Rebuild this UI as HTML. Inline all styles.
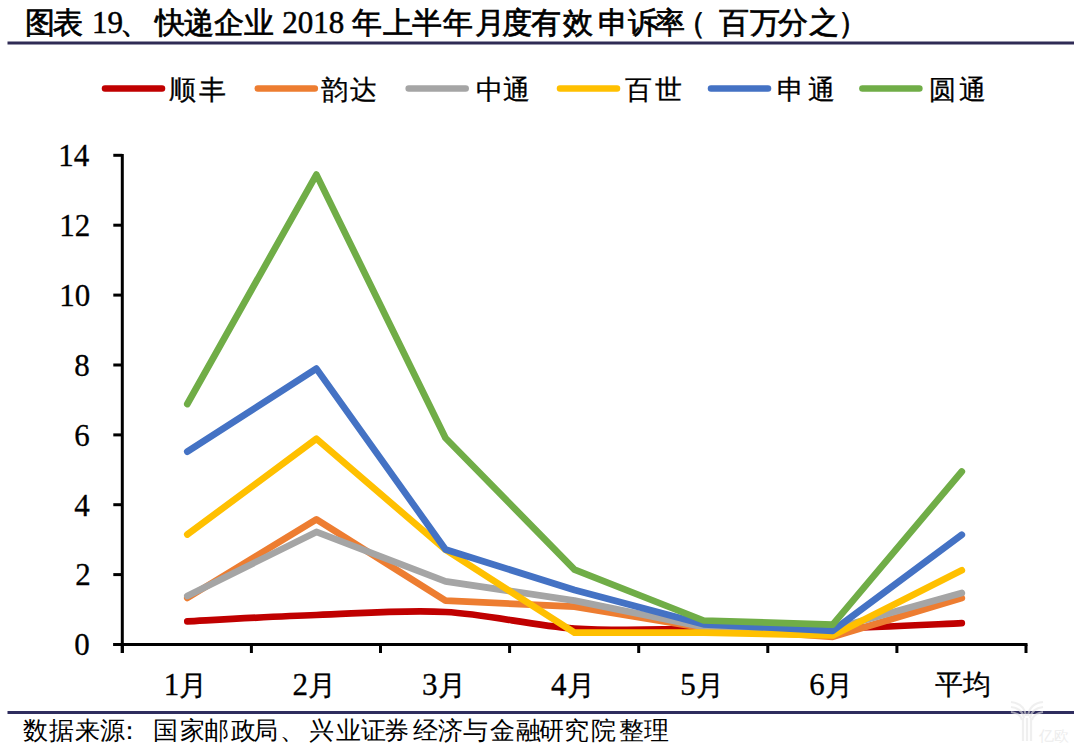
<!DOCTYPE html>
<html><head><meta charset="utf-8">
<style>
html,body{margin:0;padding:0;background:#fff;}
body{width:1080px;height:751px;overflow:hidden;position:relative;font-family:"Liberation Serif",serif;}
svg{position:absolute;left:0;top:0;}
</style></head><body>
<svg width="1080" height="751" viewBox="0 0 1080 751" font-family="Liberation Serif, serif">
<rect x="0" y="0" width="1080" height="751" fill="#fff"/>
<rect x="7.5" y="41.5" width="1066.5" height="3" fill="#2f2b55"/>
<g stroke-width="6.5" stroke-linecap="round"><line x1="105.0" y1="88.4" x2="162.0" y2="88.4" stroke="#C00000"/><line x1="257.8" y1="88.4" x2="314.8" y2="88.4" stroke="#ED7D31"/><line x1="408.7" y1="88.4" x2="465.7" y2="88.4" stroke="#A5A5A5"/><line x1="560.0" y1="88.4" x2="617.0" y2="88.4" stroke="#FFC000"/><line x1="711.0" y1="88.4" x2="768.0" y2="88.4" stroke="#4472C4"/><line x1="862.4" y1="88.4" x2="919.4" y2="88.4" stroke="#70AD47"/></g>
<g fill="none" stroke-width="6.7" stroke-linecap="round" stroke-linejoin="round"><path d="M187.3,621.3 C208.8,620.2 273.4,616.5 316.4,615.0 C359.4,613.5 402.4,609.8 445.5,612.0 C488.5,614.2 531.5,625.7 574.5,628.5 C617.6,631.3 660.6,629.0 703.6,629.0 C746.6,629.0 789.7,629.5 832.7,628.5 C875.7,627.5 940.3,624.1 961.8,623.2" stroke="#C00000"/><path d="M187.3,598.0 L316.4,519.4 L445.5,600.7 L574.5,606.7 L703.6,628.0 L832.7,636.8 L961.8,598.0" stroke="#ED7D31"/><path d="M187.3,596.0 L316.4,531.9 L445.5,581.4 L574.5,600.6 L703.6,627.0 L832.7,629.0 L961.8,593.0" stroke="#A5A5A5"/><path d="M187.3,534.5 L316.4,438.8 L445.5,549.8 L574.5,632.6 L703.6,632.6 L832.7,635.5 L961.8,570.3" stroke="#FFC000"/><path d="M187.3,451.6 L316.4,368.6 L445.5,549.5 L574.5,590.0 L703.6,624.3 L832.7,630.8 L961.8,534.8" stroke="#4472C4"/><path d="M187.3,404.0 L316.4,174.6 L445.5,438.0 L574.5,569.6 L703.6,620.5 L832.7,624.7 L961.8,471.5" stroke="#70AD47"/></g>
<g stroke="#000" stroke-width="3" fill="none">
<line x1="122.3" y1="154" x2="122.3" y2="653"/>
<line x1="113.3" y1="644.5" x2="1027.5" y2="644.5"/>
<line x1="113.3" y1="644.5" x2="122.3" y2="644.5"/><line x1="113.3" y1="574.6" x2="122.3" y2="574.6"/><line x1="113.3" y1="504.7" x2="122.3" y2="504.7"/><line x1="113.3" y1="434.9" x2="122.3" y2="434.9"/><line x1="113.3" y1="365.0" x2="122.3" y2="365.0"/><line x1="113.3" y1="295.1" x2="122.3" y2="295.1"/><line x1="113.3" y1="225.2" x2="122.3" y2="225.2"/><line x1="113.3" y1="155.3" x2="122.3" y2="155.3"/><line x1="122.3" y1="644.5" x2="122.3" y2="653"/><line x1="251.4" y1="644.5" x2="251.4" y2="653"/><line x1="380.5" y1="644.5" x2="380.5" y2="653"/><line x1="509.6" y1="644.5" x2="509.6" y2="653"/><line x1="638.7" y1="644.5" x2="638.7" y2="653"/><line x1="767.8" y1="644.5" x2="767.8" y2="653"/><line x1="896.9" y1="644.5" x2="896.9" y2="653"/><line x1="1026.0" y1="644.5" x2="1026.0" y2="653"/>
</g>
<rect x="7.5" y="711" width="1066.5" height="3" fill="#2f2d5e"/>
<g fill="none" stroke="#e6e6e6" stroke-width="2.2" opacity="0.6">
<path d="M1011,702 C1020,703 1025,708 1026,716 M1011,707 C1019,708 1023,712 1024,718 M1011,712 C1017,713 1021,716 1022,720"/>
<path d="M1043,702 C1034,703 1029,708 1028,716 M1043,707 C1035,708 1031,712 1030,718 M1043,712 C1037,713 1033,716 1032,720"/>
<path d="M1023,718 V741 M1027,718 V741 M1031,718 V741"/>
</g>
<text x="1038.5" y="740.5" font-size="15" fill="#e6e6e6" opacity="0.7">亿欧</text>
<g fill="#000"><text x="24.5" y="32.7" font-size="30" stroke="#000" stroke-width="0.7">图</text><text x="53.0" y="32.7" font-size="30" stroke="#000" stroke-width="0.7">表</text><text x="92.0" y="33.3" font-size="31" stroke="#000" stroke-width="0.5">19</text><text x="119.5" y="32.7" font-size="30" stroke="#000" stroke-width="0.7">、</text><text x="154.6" y="32.7" font-size="30" stroke="#000" stroke-width="0.7">快</text><text x="183.5" y="32.7" font-size="30" stroke="#000" stroke-width="0.7">递</text><text x="214.0" y="32.7" font-size="30" stroke="#000" stroke-width="0.7">企</text><text x="244.4" y="32.7" font-size="30" stroke="#000" stroke-width="0.7">业</text><text x="282.3" y="33.3" font-size="31" stroke="#000" stroke-width="0.5">2018</text><text x="351.5" y="32.7" font-size="30" stroke="#000" stroke-width="0.7">年</text><text x="382.6" y="32.7" font-size="30" stroke="#000" stroke-width="0.7">上</text><text x="412.0" y="32.7" font-size="30" stroke="#000" stroke-width="0.7">半</text><text x="443.0" y="32.7" font-size="30" stroke="#000" stroke-width="0.7">年</text><text x="475.0" y="32.7" font-size="30" stroke="#000" stroke-width="0.7">月</text><text x="501.6" y="32.7" font-size="30" stroke="#000" stroke-width="0.7">度</text><text x="530.7" y="32.7" font-size="30" stroke="#000" stroke-width="0.7">有</text><text x="562.5" y="32.7" font-size="30" stroke="#000" stroke-width="0.7">效</text><text x="597.5" y="32.7" font-size="30" stroke="#000" stroke-width="0.7">申</text><text x="628.0" y="32.7" font-size="30" stroke="#000" stroke-width="0.7">诉</text><text x="654.8" y="32.7" font-size="30" stroke="#000" stroke-width="0.7">率</text><text x="675.8" y="32.7" font-size="30" stroke="#000" stroke-width="0.7">（</text><text x="718.5" y="32.7" font-size="30" stroke="#000" stroke-width="0.7">百</text><text x="749.6" y="32.7" font-size="30" stroke="#000" stroke-width="0.7">万</text><text x="777.8" y="32.7" font-size="30" stroke="#000" stroke-width="0.7">分</text><text x="808.9" y="32.7" font-size="30" stroke="#000" stroke-width="0.7">之</text><text x="837.5" y="32.7" font-size="30" stroke="#000" stroke-width="0.7">）</text><text x="22.9" y="739.0" font-size="24.5">数</text><text x="49.4" y="739.0" font-size="24.5">据</text><text x="75.0" y="739.0" font-size="24.5">来</text><text x="99.6" y="739.0" font-size="24.5">源</text><text x="117.0" y="739.0" font-size="24.5">：</text><text x="153.0" y="739.0" font-size="24.5">国</text><text x="179.6" y="739.0" font-size="24.5">家</text><text x="204.0" y="739.0" font-size="24.5">邮</text><text x="230.6" y="739.0" font-size="24.5">政</text><text x="253.4" y="739.0" font-size="24.5">局</text><text x="280.0" y="739.0" font-size="24.5">、</text><text x="309.0" y="739.0" font-size="24.5">兴</text><text x="335.6" y="739.0" font-size="24.5">业</text><text x="361.0" y="739.0" font-size="24.5">证</text><text x="383.6" y="739.0" font-size="24.5">券</text><text x="413.0" y="739.0" font-size="24.5">经</text><text x="438.0" y="739.0" font-size="24.5">济</text><text x="463.0" y="739.0" font-size="24.5">与</text><text x="490.0" y="739.0" font-size="24.5">金</text><text x="515.7" y="739.0" font-size="24.5">融</text><text x="539.0" y="739.0" font-size="24.5">研</text><text x="563.6" y="739.0" font-size="24.5">究</text><text x="591.0" y="739.0" font-size="24.5">院</text><text x="619.0" y="739.0" font-size="24.5">整</text><text x="644.4" y="739.0" font-size="24.5">理</text><text x="168.5" y="99.0" font-size="27" stroke="#000" stroke-width="0.3">顺</text><text x="199.4" y="99.0" font-size="27" stroke="#000" stroke-width="0.3">丰</text><text x="321.2" y="99.0" font-size="27" stroke="#000" stroke-width="0.3">韵</text><text x="350.2" y="99.0" font-size="27" stroke="#000" stroke-width="0.3">达</text><text x="476.1" y="99.0" font-size="27" stroke="#000" stroke-width="0.3">中</text><text x="503.3" y="99.0" font-size="27" stroke="#000" stroke-width="0.3">通</text><text x="625.0" y="99.0" font-size="27" stroke="#000" stroke-width="0.3">百</text><text x="654.5" y="99.0" font-size="27" stroke="#000" stroke-width="0.3">世</text><text x="777.0" y="99.0" font-size="27" stroke="#000" stroke-width="0.3">申</text><text x="808.0" y="99.0" font-size="27" stroke="#000" stroke-width="0.3">通</text><text x="929.2" y="99.0" font-size="27" stroke="#000" stroke-width="0.3">圆</text><text x="959.0" y="99.0" font-size="27" stroke="#000" stroke-width="0.3">通</text><text x="163.7" y="694.6" font-size="31" stroke="#000" stroke-width="0.3">1<tspan font-size="28" stroke="#000" stroke-width="0.3">月</tspan></text><text x="292.5" y="694.6" font-size="31" stroke="#000" stroke-width="0.3">2<tspan font-size="28" stroke="#000" stroke-width="0.3">月</tspan></text><text x="422.1" y="694.6" font-size="31" stroke="#000" stroke-width="0.3">3<tspan font-size="28" stroke="#000" stroke-width="0.3">月</tspan></text><text x="551.0" y="694.6" font-size="31" stroke="#000" stroke-width="0.3">4<tspan font-size="28" stroke="#000" stroke-width="0.3">月</tspan></text><text x="680.2" y="694.6" font-size="31" stroke="#000" stroke-width="0.3">5<tspan font-size="28" stroke="#000" stroke-width="0.3">月</tspan></text><text x="809.2" y="694.6" font-size="31" stroke="#000" stroke-width="0.3">6<tspan font-size="28" stroke="#000" stroke-width="0.3">月</tspan></text><text x="934.9" y="694.4" font-size="28" stroke="#000" stroke-width="0.3">平均</text><text x="74.2" y="655.3" font-size="31" stroke="#000" stroke-width="0.3">0</text><text x="75.2" y="585.4" font-size="31" stroke="#000" stroke-width="0.3">2</text><text x="74.2" y="515.5" font-size="31" stroke="#000" stroke-width="0.3">4</text><text x="74.2" y="445.7" font-size="31" stroke="#000" stroke-width="0.3">6</text><text x="74.2" y="375.8" font-size="31" stroke="#000" stroke-width="0.3">8</text><text x="59.2" y="305.9" font-size="31" stroke="#000" stroke-width="0.3">10</text><text x="59.2" y="236.0" font-size="31" stroke="#000" stroke-width="0.3">12</text><text x="58.2" y="166.1" font-size="31" stroke="#000" stroke-width="0.3">14</text></g>
</svg>
</body></html>
